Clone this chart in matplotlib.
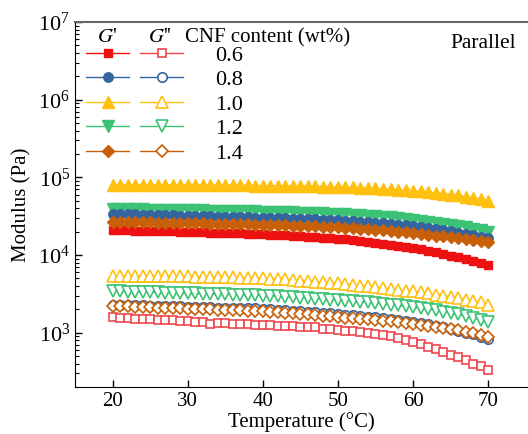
import matplotlib
matplotlib.use("Agg")
import matplotlib.pyplot as plt
from matplotlib.lines import Line2D
from matplotlib.ticker import LogLocator, NullFormatter

plt.rcParams["font.family"] = ["Liberation Serif", "DejaVu Serif"]
plt.rcParams["mathtext.fontset"] = "stix"
plt.rcParams["font.size"] = 15

# ── Data: temperature sweep, 1 °C steps ───────────────────────────────────────
temperature = list(range(20, 71))
cnf_content = ["0.6", "0.8", "1.0", "1.2", "1.4"]

g1_06 = [20900, 20800, 20700, 20600, 20500, 20400, 20300, 20200, 20100, 20000,
         19900, 19800, 19700, 19500, 19400, 19300, 19100, 19000, 18800, 18700,
         18500, 18300, 18100, 17900, 17700, 17500, 17300, 17100, 16800, 16600,
         16300, 16000, 15600, 15200, 14800, 14400, 14000, 13600, 13200, 12700,
         12300, 11800, 11300, 10800, 10300, 9800, 9300, 8800, 8300, 7900, 7400]
g1_08 = [33900, 33800, 33600, 33400, 33200, 33000, 32800, 32600, 32400, 32200,
         32000, 31800, 31600, 31500, 31300, 31100, 30900, 30800, 30600, 30400,
         30200, 30000, 29800, 29600, 29400, 29200, 29000, 28800, 28600, 28400,
         28100, 27800, 27400, 27000, 26600, 26200, 25700, 25200, 24700, 24200,
         23600, 23000, 22300, 21600, 20900, 20200, 19500, 18700, 17900, 17100, 16400]
g1_10 = [80300, 80400, 80500, 80400, 80300, 80300, 80200, 80100, 80000, 79900,
         79800, 79700, 79600, 79500, 79400, 79300, 79100, 78900, 78700, 78500,
         78300, 78100, 77900, 77700, 77400, 77100, 76800, 76500, 76100, 75700,
         75300, 74800, 74200, 73600, 72900, 72100, 71300, 70400, 69400, 68300,
         67100, 65900, 64600, 63200, 61700, 60100, 58400, 56600, 54700, 52600, 50300]
g1_12 = [38900, 38900, 38800, 38700, 38600, 38400, 38300, 38200, 38100, 38000,
         37800, 37700, 37600, 37400, 37300, 37200, 37000, 36900, 36700, 36500,
         36300, 36100, 35900, 35700, 35500, 35200, 35000, 34700, 34400, 34100,
         33800, 33400, 33000, 32600, 32100, 31600, 31100, 30500, 29900, 29200,
         28500, 27800, 27000, 26200, 25400, 24500, 23600, 22700, 21800, 20900, 20000]
g1_14 = [26900, 26800, 26700, 26600, 26500, 26400, 26200, 26100, 26000, 25900,
         25800, 25700, 25600, 25400, 25300, 25200, 25100, 24900, 24800, 24600,
         24500, 24300, 24200, 24000, 23900, 23700, 23500, 23400, 23200, 23000,
         22800, 22500, 22200, 21900, 21500, 21200, 20800, 20400, 20000, 19600,
         19100, 18700, 18300, 17800, 17400, 16900, 16500, 16100, 15600, 15200, 14800]

g2_06 = [1580, 1560, 1540, 1520, 1500, 1480, 1470, 1450, 1440, 1420,
         1400, 1390, 1370, 1310, 1350, 1330, 1310, 1300, 1280, 1260,
         1250, 1240, 1230, 1220, 1210, 1190, 1180, 1170, 1130, 1100,
         1080, 1060, 1040, 1020, 990, 960, 940, 910, 860, 810,
         760, 710, 650, 610, 560, 510, 480, 440, 400, 370, 330]
g2_08 = [2300, 2290, 2280, 2270, 2250, 2240, 2220, 2210, 2200, 2180,
         2170, 2150, 2140, 2120, 2110, 2100, 2080, 2070, 2060, 2050,
         2040, 2010, 1980, 1950, 1920, 1890, 1860, 1830, 1800, 1770,
         1740, 1710, 1680, 1640, 1610, 1570, 1540, 1500, 1460, 1420,
         1380, 1330, 1280, 1230, 1170, 1120, 1060, 1000, 950, 890, 840]
g2_10 = [5400, 5400, 5400, 5400, 5400, 5400, 5400, 5350, 5350, 5300,
         5300, 5250, 5250, 5200, 5200, 5150, 5150, 5100, 5100, 5050,
         5000, 4950, 4900, 4850, 4800, 4700, 4650, 4550, 4500, 4400,
         4350, 4250, 4150, 4050, 3950, 3850, 3750, 3650, 3550, 3450,
         3400, 3300, 3200, 3100, 3000, 2900, 2800, 2650, 2550, 2450, 2300]
g2_12 = [3400, 3400, 3380, 3360, 3340, 3320, 3300, 3280, 3260, 3240,
         3220, 3200, 3180, 3160, 3140, 3120, 3100, 3080, 3060, 3040,
         3010, 2980, 2940, 2900, 2860, 2820, 2780, 2740, 2700, 2660,
         2620, 2580, 2540, 2500, 2450, 2400, 2350, 2300, 2250, 2200,
         2140, 2080, 2010, 1940, 1870, 1800, 1720, 1640, 1560, 1470, 1380]
g2_14 = [2210, 2200, 2180, 2160, 2150, 2130, 2110, 2090, 2070, 2050,
         2040, 2020, 2010, 1990, 1980, 1970, 1950, 1940, 1920, 1910,
         1900, 1870, 1840, 1810, 1780, 1750, 1720, 1690, 1650, 1620,
         1590, 1560, 1530, 1500, 1480, 1450, 1420, 1400, 1370, 1340,
         1310, 1270, 1230, 1190, 1150, 1110, 1070, 1020, 980, 930, 890]

storage = [g1_06, g1_08, g1_10, g1_12, g1_14]
loss = [g2_06, g2_08, g2_10, g2_12, g2_14]

colors = ["#EE1111", "#34659F", "#FFC010", "#3CC274", "#C8600A"]
loss_colors = ["#F0474F", "#34659F", "#FFC010", "#3CC274", "#C8600A"]
markers = ["s", "o", "^", "v", "D"]
msizes = [6.2, 6.8, 8, 8, 6.5]

fig = plt.figure(figsize=(5.28, 4.34), dpi=100)
ax = fig.add_axes([75 / 528, 47 / 434, 453 / 528, 365 / 434])

g1_handles, g2_handles = [], []
for i in range(5):
    ax.plot(temperature, loss[i], color=loss_colors[i], lw=1.0,
            marker=markers[i], ms=msizes[i], mfc="white", mec=loss_colors[i], mew=1.2)
    g2_handles.append(Line2D([], [], color=loss_colors[i], lw=1.0, marker=markers[i],
                             ms=msizes[i], mfc="white", mec=loss_colors[i], mew=1.2))
for i in [0, 3, 1, 4, 2]:
    ax.plot(temperature, storage[i], color=colors[i], lw=1.0,
            marker=markers[i], ms=msizes[i], mfc=colors[i], mec=colors[i], mew=1.0)
for i in range(5):
    g1_handles.append(Line2D([], [], color=colors[i], lw=1.0, marker=markers[i],
                             ms=msizes[i], mfc=colors[i], mec=colors[i]))

ax.set_yscale("log")
ax.set_xlim(15, 75.3)
ax.set_ylim(200, 1e7)
ax.set_xticks([20, 30, 40, 50, 60, 70])
ax.yaxis.set_minor_locator(LogLocator(base=10, subs=range(2, 10)))
ax.yaxis.set_minor_formatter(NullFormatter())
ax.tick_params(which="major", direction="in", length=5, width=1)
ax.tick_params(which="minor", direction="in", length=3, width=0.8)
ax.tick_params(axis="x", which="minor", bottom=False)
ax.tick_params(axis="x", labelsize=15)
ax.tick_params(axis="y", labelsize=16)
ax.spines["right"].set_visible(False)
ax.spines["top"].set_color("#666666")
ax.spines["top"].set_linewidth(1.5)

ax.set_xlabel("Temperature (°C)", fontsize=15, labelpad=1)
ax.set_ylabel("Modulus (Pa)", fontsize=15, labelpad=5)

# legend: G' column, G'' column, then CNF content label
leg = ax.legend(g1_handles + g2_handles, [""] * 5 + cnf_content, ncol=2,
                loc="upper left", bbox_to_anchor=(86 / 528, 1 - 45 / 434),
                bbox_transform=fig.transFigure, frameon=False, fontsize=16,
                handlelength=1.94, handletextpad=1.45, columnspacing=-0.95,
                labelspacing=0.18, borderpad=0, borderaxespad=0)

fig.text(107 / 528, 1 - 38 / 434, r"$G$'", fontsize=15, ha="center", va="center")
fig.text(160 / 528, 1 - 38 / 434, r"$G$''", fontsize=15, ha="center", va="center")
fig.text(185 / 528, 1 - 38 / 434, "CNF content (wt%)", fontsize=15, ha="left", va="center")
fig.text(516 / 528, 1 - 44 / 434, "Parallel", fontsize=15.5, ha="right", va="center")

fig.savefig("out.png", dpi=100)
